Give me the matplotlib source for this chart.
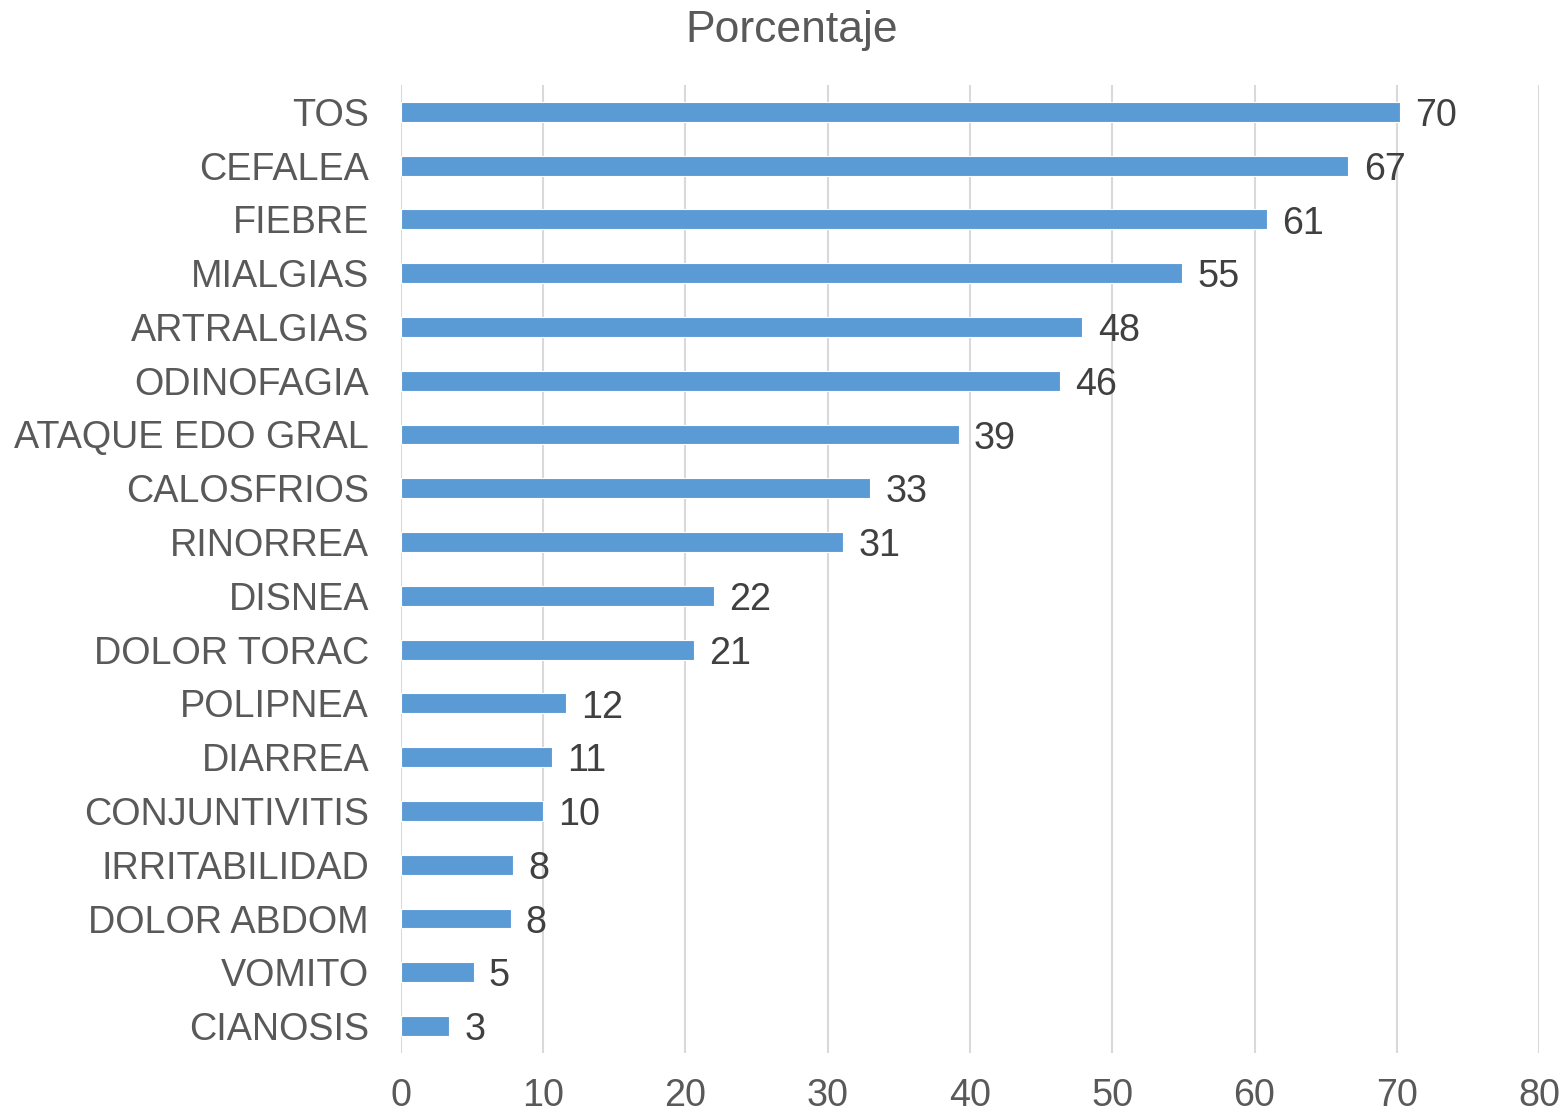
import matplotlib
matplotlib.use("Agg")
import matplotlib.pyplot as plt

categories = ["TOS", "CEFALEA", "FIEBRE", "MIALGIAS", "ARTRALGIAS", "ODINOFAGIA",
              "ATAQUE EDO GRAL", "CALOSFRIOS", "RINORREA", "DISNEA", "DOLOR TORAC",
              "POLIPNEA", "DIARREA", "CONJUNTIVITIS", "IRRITABILIDAD", "DOLOR ABDOM",
              "VOMITO", "CIANOSIS"]
values = [70.2, 66.6, 60.9, 54.9, 47.9, 46.3, 39.2, 33.0, 31.1, 22.0, 20.6,
          11.6, 10.6, 10.0, 7.9, 7.7, 5.1, 3.4]
xticks = [0, 10, 20, 30, 40, 50, 60, 70, 80]

plt.rcParams['font.family'] = ['Liberation Sans', 'DejaVu Sans']

fig = plt.figure(figsize=(15.62, 11.17), dpi=100)
ax = fig.add_axes([0.2567, 0.0573, 0.9853 - 0.2567, 0.924 - 0.0573])

fs = 27.2
y = list(range(len(categories)))
ax.barh(y, values, height=0.37, color='#5B9BD5', edgecolor='white', linewidth=0.8, zorder=3)
ax.set_ylim(len(categories) - 0.5, -0.5)
ax.set_xlim(0, 80)
ax.set_yticks(y)
ax.set_yticklabels(categories, fontsize=fs, color='#595959')
ax.set_xticks(xticks)
ax.set_xticklabels([str(t) for t in xticks], fontsize=fs, color='#595959')
ax.tick_params(axis='both', length=0)
ax.tick_params(axis='y', pad=23)
ax.tick_params(axis='x', pad=18)
ax.grid(axis='x', color='#D9D9D9', linewidth=1.5, zorder=0)
for s in ax.spines.values():
    s.set_visible(False)

for yi, v in zip(y, values):
    ax.annotate(f"{round(v)}", xy=(v, yi), xytext=(11, -3), textcoords='offset points',
                ha='left', va='center', fontsize=fs, color='#404040')

fig.text(0.507, 0.973, "Porcentaje", ha='center', va='center', fontsize=32, color='#595959')

fig.savefig("out.png", dpi=100)
